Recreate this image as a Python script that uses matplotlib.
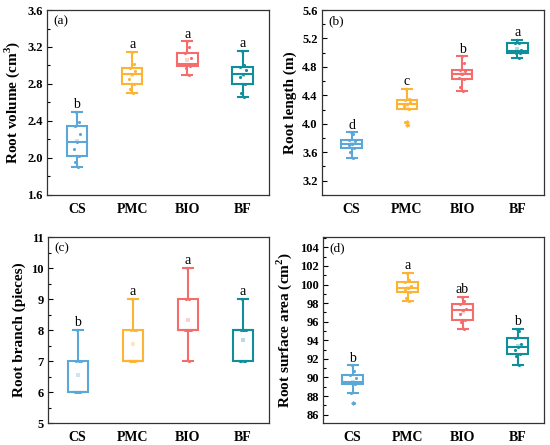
import numpy as np
import matplotlib
matplotlib.use('Agg')
from matplotlib import pyplot as plt
from matplotlib.ticker import MultipleLocator

plt.rcParams['font.family'] = ['Liberation Serif', 'DejaVu Serif']
plt.rcParams['mathtext.fontset'] = 'custom'
plt.rcParams['mathtext.rm'] = 'Liberation Serif'
plt.rcParams['mathtext.bf'] = 'Liberation Serif:bold'

# groups and colours
groups = ['CS', 'PMC', 'BIO', 'BF']
colors = ['#5BA8D8', '#FDB435', '#F46C6C', '#0F8E9B']

# (a) root volume
volume_cs = [1.90, 1.96, 2.02, 2.10, 2.17, 2.26, 2.35, 2.39, 2.50]
volume_pmc = [2.70, 2.75, 2.80, 2.85, 2.91, 2.94, 2.97, 3.02, 3.15]
volume_bio = [2.90, 2.97, 2.99, 3.00, 3.02, 3.08, 3.14, 3.20, 3.26]
volume_bf = [2.66, 2.70, 2.80, 2.88, 2.91, 2.95, 2.98, 3.01, 3.16]
volume_letters = ['b', 'a', 'a', 'a']

# (b) root length
length_cs = [3.52, 3.60, 3.66, 3.70, 3.72, 3.76, 3.77, 3.85, 3.88]
length_pmc = [3.99, 4.02, 4.21, 4.25, 4.28, 4.31, 4.33, 4.35, 4.49]
length_bio = [4.46, 4.52, 4.63, 4.65, 4.70, 4.74, 4.76, 4.85, 4.95]
length_bf = [4.92, 4.99, 5.00, 5.01, 5.02, 5.04, 5.13, 5.14, 5.18]
length_letters = ['d', 'c', 'b', 'a']

# (c) root branch
branch_cs = [6, 6, 6, 6, 6, 7, 7, 7, 8]
branch_pmc = [7, 7, 7, 7, 7, 8, 8, 8, 9]
branch_bio = [7, 8, 8, 8, 8, 8, 9, 9, 10]
branch_bf = [7, 7, 7, 7, 8, 8, 8, 8, 9]
branch_letters = ['b', 'a', 'a', 'a']

# (d) root surface area
area_cs = [87.26, 88.33, 89.25, 89.40, 89.52, 89.90, 90.30, 90.75, 91.30]
area_pmc = [98.22, 98.60, 99.22, 99.45, 99.60, 99.90, 100.30, 100.50, 101.28]
area_bio = [95.27, 96.00, 96.24, 96.80, 97.24, 97.40, 97.89, 98.20, 98.68]
area_bf = [91.30, 92.30, 92.57, 93.00, 93.30, 93.65, 94.30, 95.00, 95.25]
area_letters = ['b', 'a', 'ab', 'b']

# small fixed horizontal offsets for the raw points
offsets = [0.02, -0.03, 0.04, -0.05, 0.0, 0.06, -0.04, 0.03, -0.01]


def draw_panel(ax, data, letters, tag, ylabel, ylim, major, minor):
    pos = np.arange(1, len(groups) + 1)
    bp = ax.boxplot(data, positions=pos, widths=0.37, capwidths=0.18,
                    whis=1.5, showmeans=True, patch_artist=True,
                    meanprops=dict(marker='s', markersize=2.2, alpha=0.3,
                                   markeredgewidth=0),
                    flierprops=dict(marker='D', markersize=2.5,
                                    markeredgewidth=0))
    for i, c in enumerate(colors):
        bp['boxes'][i].set(facecolor='white', edgecolor=c, linewidth=1.5)
        bp['medians'][i].set(color=c, linewidth=1.5)
        for w in bp['whiskers'][2 * i:2 * i + 2]:
            w.set(color=c, linewidth=1.5)
        for cp in bp['caps'][2 * i:2 * i + 2]:
            cp.set(color=c, linewidth=1.5)
        bp['means'][i].set(markerfacecolor=c)
        bp['fliers'][i].set(markerfacecolor=c)
        xs = pos[i] + np.array(offsets[:len(data[i])])
        ax.scatter(xs, data[i], s=5, color=c, zorder=3, linewidths=0)
        ax.annotate(letters[i], (pos[i], max(data[i])), xytext=(0, 0.5),
                    textcoords='offset points', ha='center', va='bottom',
                    fontsize=10)
    ax.set_xlim(0.46, 4.48)
    ax.set_ylim(*ylim)
    ax.yaxis.set_major_locator(MultipleLocator(major))
    ax.yaxis.set_minor_locator(MultipleLocator(minor))
    ax.set_xticks(pos)
    ax.set_xticklabels(groups, fontsize=10, fontweight='bold')
    ax.tick_params(axis='x', length=0, pad=6)
    ax.tick_params(axis='y', which='major', direction='in', length=3.5,
                   width=0.8, labelsize=9, pad=3)
    ax.tick_params(axis='y', which='minor', direction='in', length=2,
                   width=0.8)
    for lab in ax.get_yticklabels():
        lab.set_fontweight('bold')
    for s in ax.spines.values():
        s.set_linewidth(0.9)
        s.set_color('#333333')
    ax.set_ylabel(ylabel, fontsize=11, fontweight='bold', labelpad=4)
    ax.text(0.03, 0.97, tag, transform=ax.transAxes, ha='left', va='top',
            fontsize=9.5)


fig = plt.figure(figsize=(5.5, 4.45), dpi=100)
ax_a = fig.add_axes([0.0855, 0.562, 0.404, 0.4155])
ax_b = fig.add_axes([0.585, 0.562, 0.404, 0.4155])
ax_c = fig.add_axes([0.0873, 0.0494, 0.402, 0.4176])
ax_d = fig.add_axes([0.587, 0.0494, 0.402, 0.4176])

draw_panel(ax_a, [volume_cs, volume_pmc, volume_bio, volume_bf],
           volume_letters, '(a)', r'Root volume (cm$^{\mathbf{3}}$)',
           (1.6, 3.6), 0.4, 0.2)
draw_panel(ax_b, [length_cs, length_pmc, length_bio, length_bf],
           length_letters, '(b)', 'Root length (m)',
           (3.0, 5.6), 0.4, 0.2)
draw_panel(ax_c, [branch_cs, branch_pmc, branch_bio, branch_bf],
           branch_letters, '(c)', 'Root branch (pieces)',
           (5, 11), 1, 0.5)
draw_panel(ax_d, [area_cs, area_pmc, area_bio, area_bf],
           area_letters, '(d)', r'Root surface area (cm$^{\mathbf{2}}$)',
           (85.1, 105.1), 2, 1)

fig.savefig('out.png', dpi=100)
